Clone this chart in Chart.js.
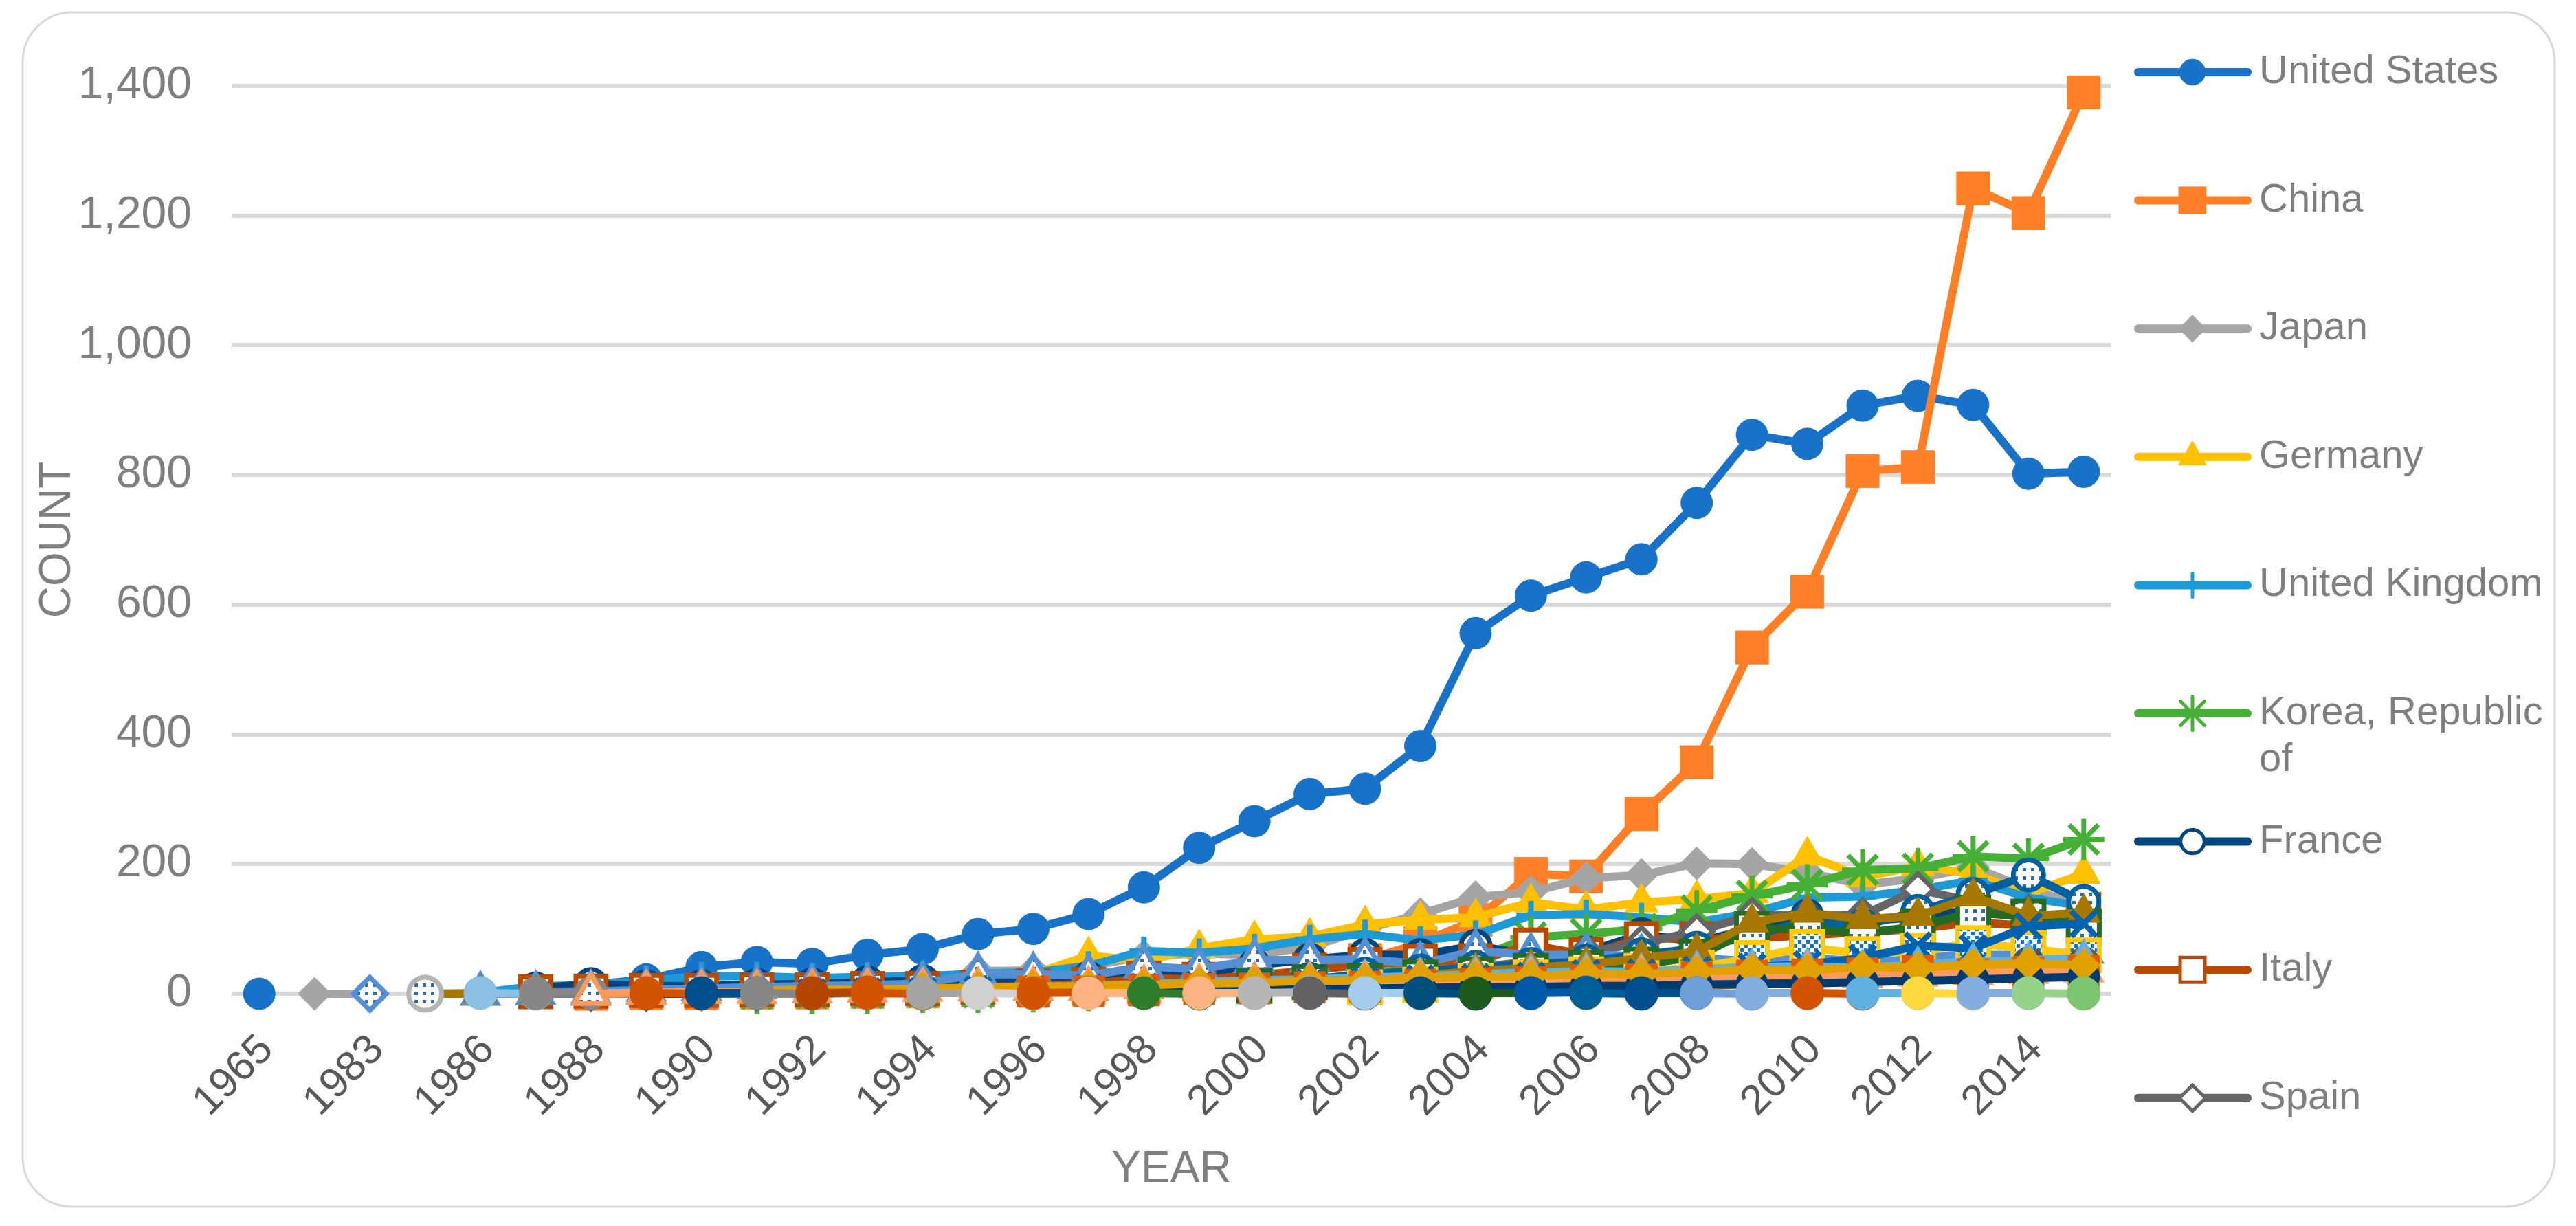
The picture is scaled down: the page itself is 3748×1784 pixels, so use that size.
<!DOCTYPE html>
<html>
<head>
<meta charset="utf-8" />
<title>Count by year</title>
<script src="https://cdn.jsdelivr.net/npm/chart.js"></script>
<style>
  html, body { margin: 0; padding: 0; background: #ffffff; }
  #myChart { display: block; background: #ffffff; }
</style>
</head>
<body>
<canvas id="myChart" width="3748" height="1784" style="width:3748px;height:1784px;"></canvas>

<script>
// categories
const years = ['1965','1980','1983','1985','1986','1987','1988','1989','1990','1991','1992','1993','1994','1995','1996','1997','1998','1999','2000','2001','2002','2003','2004','2005','2006','2007','2008','2009','2010','2011','2012','2013','2014','2015'];
const yTickValues = [0, 200, 400, 600, 800, 1000, 1200, 1400];

const N = null;

// series shown in the legend
const majorCountries = ['United States', 'China', 'Japan', 'Germany', 'United Kingdom', 'Korea, Republic of', 'France', 'Italy', 'Spain'];
const usCounts      = [0,N,N,N,2,9,14,22,41,49,46,60,69,92,100,123,164,225,266,308,316,382,556,614,642,670,757,862,848,907,922,908,802,805];
const chinaCounts   = [N,N,N,N,N,N,0,1,1,2,2,3,4,5,6,8,10,14,18,35,52,78,114,185,181,277,357,534,620,806,812,1242,1204,1390];
const japanCounts   = [N,0,0,N,1,3,5,6,10,14,15,18,20,35,36,42,58,62,60,72,99,123,149,157,178,183,201,200,187,168,178,195,162,135];
const germanyCounts = [N,N,N,N,N,2,4,6,8,12,14,16,22,30,30,59,50,70,84,88,107,114,118,141,130,141,146,155,213,180,197,185,155,185];
const ukCounts      = [N,N,N,0,1,12,13,20,27,27,24,26,27,31,33,43,66,63,70,84,92,82,91,121,123,118,110,125,148,150,160,175,148,135];
const koreaCounts   = [N,N,N,N,N,N,N,N,N,0,1,1,2,2,3,5,8,10,15,22,30,40,55,87,92,100,128,151,168,191,193,212,208,238];
const franceCounts  = [N,N,N,N,N,8,15,12,12,14,15,18,20,18,20,25,28,30,44,53,60,60,74,60,64,92,80,100,121,112,118,130,118,125];
const italyCounts   = [N,N,N,N,N,3,4,5,5,6,6,8,8,10,12,15,24,22,28,36,45,50,51,75,60,85,85,85,90,95,100,110,105,130];
const spainCounts   = [N,N,N,N,N,N,1,1,2,2,3,3,4,5,6,8,10,12,16,20,30,35,40,50,64,78,96,121,121,121,161,142,125,110];

// further countries (not listed in the legend)
const otherCountries = ['Canada', 'Taiwan', 'Netherlands', 'Switzerland', 'Sweden', 'Australia', 'India', 'Israel', 'Belgium', 'Russia', 'Finland', 'Denmark', 'Austria', 'Singapore'];
const canadaCounts      = [N,N,N,N,0,1,3,6,8,10,12,13,16,30,30,28,42,38,52,52,53,46,66,60,60,58,55,50,55,50,55,60,60,65];
const taiwanCounts      = [N,N,N,N,N,N,N,N,N,N,N,N,N,N,N,N,N,N,N,22,30,35,40,45,50,60,70,90,112,105,127,153,183,142];
const netherlandsCounts = [N,N,N,N,N,N,N,N,N,N,N,N,N,N,N,N,N,N,12,18,20,25,30,35,40,45,57,100,100,93,104,125,119,104];
const switzCounts       = [N,N,N,N,N,N,N,N,N,N,N,N,N,N,N,N,N,N,N,N,10,14,20,25,30,35,40,55,72,61,66,78,70,59];
const swedenCounts      = [N,N,N,0,0,0,0,0,1,2,2,3,4,5,6,8,10,12,15,18,22,28,35,40,45,55,65,110,125,115,120,150,120,125];
const australiaCounts   = [N,N,N,N,N,N,N,N,N,N,2,3,3,5,6,9,10,13,15,17,20,23,25,27,31,32,36,41,45,55,74,70,104,108];
const indiaCounts       = [N,N,N,N,N,N,N,N,N,N,N,N,N,N,N,N,N,N,N,N,N,N,5,6,9,10,12,15,17,21,20,25,48,48];
const israelCounts      = [N,N,N,N,N,N,N,N,N,N,N,N,N,N,N,N,N,N,N,N,3,4,5,7,8,10,13,15,18,21,22,28,35,45];
const belgiumCounts     = [N,N,N,N,N,N,N,N,N,N,N,N,5,8,9,12,15,18,21,22,25,27,30,33,35,34,38,41,42,40,45,50,52,55];
const russiaCounts      = [N,N,N,N,N,N,N,N,N,N,N,N,N,N,3,4,5,7,8,10,11,14,16,18,21,22,25,28,30,32,35,30,33,35];
const finlandCounts     = [N,N,N,N,N,N,N,N,0,0,0,1,1,2,3,4,5,6,8,10,12,14,15,18,20,22,25,28,30,32,30,28,32,30];
const denmarkCounts     = [N,N,N,N,N,N,0,2,3,3,4,5,6,7,8,8,10,12,14,15,16,18,20,22,24,25,26,28,30,28,30,32,34,36];
const austriaCounts     = [N,N,N,N,N,N,N,0,0,1,1,2,2,3,3,4,5,6,6,7,8,9,10,10,12,12,14,15,16,18,20,22,24,26];
const singaporeCounts   = [N,N,N,N,N,N,N,N,N,5,6,6,8,9,11,12,13,16,17,20,21,25,26,27,31,30,34,37,36,41,40,45,47,44];

// countries with only a record or two each
const minorCountries = ['Mexico','Norway','Argentina','Poland','Ireland','Hungary','New Zealand','Czech Republic','Portugal','Greece','Turkey','South Africa','Iran','Malaysia','Thailand','Chile','Egypt','Saudi Arabia','Ukraine','Romania','Colombia','Indonesia','Philippines','Pakistan','Vietnam','Luxembourg','Slovenia','Croatia','Estonia','Lithuania','Latvia','Bulgaria'];
const minorYears = [['1983'],['1985'],['1986','1987'],['1987','1988'],['1988','1989'],['1989','1990'],['1990','1991'],['1991','1992'],['1992','1993'],['1993','1994'],['1994','1995'],['1995','1996'],['1996','1997'],['1997','1998'],['1998','1999'],['1999','2000'],['2000','2001'],['2001','2002'],['2002','2003'],['2003','2004'],['2004','2005'],['2005','2006'],['2006','2007'],['2007','2008'],['2008','2009'],['2009','2010'],['2010','2011'],['2011','2012'],['2012','2013'],['2013','2014'],['2014','2015'],['2015']];
const minorCounts = [[0],[0],[1,0],[1,1],[0,1],[1,0],[1,1],[1,0],[1,2],[1,0],[1,1],[1,0],[1,2],[1,1],[1,0],[1,1],[1,2],[1,0],[1,1],[1,0],[1,1],[1,2],[1,0],[1,1],[1,0],[1,1],[1,0],[1,1],[1,0],[1,1],[1,0],[1]];

// ---- styles (kept apart from the data) ----
const FONT = "'Liberation Sans', Arial, sans-serif";
const majorStyles = [
  { color: '#1873C8', shape: 'circle',  r: 23, fill: 'solid', bw: 1 },
  { color: '#FF7F27', shape: 'rect',    r: 34, fill: 'solid', bw: 1 },
  { color: '#A5A5A5', shape: 'rectRot', r: 24, fill: 'solid', bw: 1 },
  { color: '#FFC000', shape: 'triangle',r: 28, fill: 'solid', bw: 1 },
  { color: '#1E9BD7', shape: 'cross',   r: 21, fill: 'solid', bw: 8 },
  { color: '#45B035', shape: 'star',    r: 30, fill: 'solid', bw: 7 },
  { color: '#00457E', shape: 'circle',  r: 21, fill: 'white', bw: 7 },
  { color: '#B84A00', shape: 'rect',    r: 31, fill: 'white', bw: 7 },
  { color: '#666666', shape: 'rectRot', r: 23, fill: 'white', bw: 7 }
];
const otherStyles = [
  { color: '#5590D5', shape: 'triangle', r: 28, fill: 'grid',  bw: 7 },
  { color: '#0060A0', shape: 'circle',   r: 22, fill: 'grid',  bw: 7 },
  { color: '#266B22', shape: 'rect',     r: 32, fill: 'grid',  bw: 7 },
  { color: '#FFCA0F', shape: 'rect',     r: 32, fill: 'diag',  bw: 7 },
  { color: '#A67800', shape: 'triangle', r: 28, fill: 'solid', bw: 1 },
  { color: '#0063B1', shape: 'crossRot', r: 26, fill: 'solid', bw: 8 },
  { color: '#555555', shape: 'circle',   r: 23, fill: 'solid', bw: 1 },
  { color: '#8B5E00', shape: 'circle',   r: 23, fill: 'solid', bw: 1 },
  { color: '#5DB2E3', shape: 'triangle', r: 28, fill: 'solid', bw: 1 },
  { color: '#E35A00', shape: 'rect',     r: 32, fill: 'solid', bw: 1 },
  { color: '#70C05E', shape: 'triangle', r: 28, fill: 'solid', bw: 1 },
  { color: '#FF9A5C', shape: 'triangle', r: 28, fill: 'grid',  bw: 7 },
  { color: '#003A6E', shape: 'circle',   r: 23, fill: 'solid', bw: 1 },
  { color: '#E0A000', shape: 'rectRot',  r: 24, fill: 'solid', bw: 1 }
];
const minorColors = ['#5590D5','#B5B5B5','#8CC1E6','#878787','#FF9A5C','#D35400','#004F8C','#878787','#B54600','#D35400','#A5A5A5','#D0D0D0','#D35400','#FBB382','#2E7D2E','#FBB382','#B6B6B6','#636363','#A4CDEC','#014F7C','#1E5A1B','#0059A8','#005E96','#004F91','#6D9FD9','#85AEE0','#D35400','#5EB1E0','#FFD83D','#85AEE0','#96D38A','#7DC56E'];
const minorShapes = ['rectRot','circle','circle','circle','triangle'];   // rest are circles
const minorFills  = ['grid','grid','solid','solid','grid'];              // rest are solid

const canvas = document.getElementById('myChart');
const ctx = canvas.getContext('2d');

function makePattern(diagonal) {
  const tile = document.createElement('canvas');
  tile.width = 12; tile.height = 12;
  const t = tile.getContext('2d');
  t.fillStyle = '#ffffff';
  t.fillRect(0, 0, 12, 12);
  t.fillStyle = '#1A73C8';
  if (diagonal) { t.fillRect(0, 0, 5, 5); t.fillRect(6, 6, 5, 5); }
  else { t.fillRect(3, 3, 5, 5); }
  return ctx.createPattern(tile, 'repeat');
}
const patterns = { grid: makePattern(false), diag: makePattern(true) };

function makeDataset(label, data, st, idx) {
  const fill = st.fill === 'solid' ? st.color : (st.fill === 'white' ? '#ffffff' : patterns[st.fill]);
  return {
    label: label,
    data: data,
    borderColor: st.color,
    backgroundColor: st.color,
    borderWidth: 12,
    borderJoinStyle: 'round',
    borderCapStyle: 'round',
    pointStyle: st.shape,
    pointRadius: st.r,
    pointBackgroundColor: fill,
    pointBorderColor: st.color,
    pointBorderWidth: st.bw,
    tension: 0,
    spanGaps: false,
    clip: false,
    order: -idx     // later series on top, like the original
  };
}

const majorData = [usCounts, chinaCounts, japanCounts, germanyCounts, ukCounts, koreaCounts, franceCounts, italyCounts, spainCounts];
const otherData = [canadaCounts, taiwanCounts, netherlandsCounts, switzCounts, swedenCounts, australiaCounts, indiaCounts, israelCounts, belgiumCounts, russiaCounts, finlandCounts, denmarkCounts, austriaCounts, singaporeCounts];

const datasets = [];
majorCountries.forEach((c, i) => datasets.push(makeDataset(c, majorData[i], majorStyles[i], datasets.length)));
otherCountries.forEach((c, i) => datasets.push(makeDataset(c, otherData[i], otherStyles[i], datasets.length)));
minorCountries.forEach((c, i) => {
  const st = {
    color: minorColors[i],
    shape: minorShapes[i] || 'circle',
    r: (minorShapes[i] === 'triangle') ? 28 : 24,
    fill: minorFills[i] || 'solid',
    bw: (minorFills[i] && minorFills[i] !== 'solid') ? 7 : 1
  };
  const pts = minorYears[i].map((yr, j) => ({ x: yr, y: minorCounts[i][j] }));
  datasets.push(makeDataset(c, pts, st, datasets.length));
});

// frame + legend (Excel-style, only the first nine series)
const frameAndLegend = {
  id: 'frameAndLegend',
  beforeDraw(chart) {
    const c = chart.ctx;
    c.save();
    c.fillStyle = '#ffffff';
    c.fillRect(0, 0, chart.width, chart.height);
    c.strokeStyle = '#D9D9D9';
    c.lineWidth = 3;
    c.beginPath();
    c.roundRect(33, 18, 3684, 1738, 72);
    c.stroke();
    c.restore();
  },
  afterDraw(chart) {
    const c = chart.ctx;
    const top = 105, step = 186.6, x0 = 3111, x1 = 3270, xm = 3190, tx = 3287;
    c.save();
    c.font = '58px ' + FONT;
    c.textBaseline = 'middle';
    c.textAlign = 'left';
    for (let k = 0; k < majorCountries.length; k++) {
      const ds = chart.data.datasets[k];
      const st = majorStyles[k];
      const y = top + k * step;
      c.strokeStyle = st.color;
      c.lineWidth = 12;
      c.lineCap = 'round';
      c.beginPath(); c.moveTo(x0, y); c.lineTo(x1, y); c.stroke();
      c.fillStyle = ds.pointBackgroundColor;
      c.strokeStyle = st.color;
      c.lineWidth = st.bw > 1 ? 5 : 1;
      if (Chart.helpers && Chart.helpers.drawPoint) {
        Chart.helpers.drawPoint(c, { pointStyle: st.shape, radius: st.r * 0.82, rotation: 0, borderWidth: c.lineWidth }, xm, y);
      }
      c.fillStyle = '#7F7F7F';
      const words = majorCountries[k].split(' ');
      const lines = [];
      let line = '';
      words.forEach(w => {
        const t = line ? line + ' ' + w : w;
        if (line && c.measureText(t).width > 425) { lines.push(line); line = w; } else { line = t; }
      });
      lines.push(line);
      lines.forEach((l, j) => c.fillText(l, tx, y + j * 68));
    }
    c.restore();
  }
};

Chart.defaults.font.family = FONT;

new Chart(ctx, {
  type: 'line',
  data: { labels: years, datasets: datasets },
  plugins: [frameAndLegend],
  options: {
    responsive: false,
    devicePixelRatio: 1,
    animation: false,
    events: [],
    layout: { padding: { top: 125, right: 676, bottom: 0, left: 0 } },
    plugins: { legend: { display: false }, tooltip: { enabled: false } },
    scales: {
      x: {
        offset: true,
        grid: { display: false, drawTicks: false },
        border: { display: false },
        ticks: {
          autoSkip: false,
          minRotation: 45,
          maxRotation: 45,
          padding: 46,
          labelOffset: 11,
          color: '#595959',
          font: { size: 61 },
          callback: (v, i) => (i % 2 === 0 ? years[i] : '')
        },
        title: { display: true, text: 'YEAR', color: '#7F7F7F', font: { size: 64 }, padding: { top: 0, bottom: 43 } },
        afterFit: s => { s.height = 338; }
      },
      y: {
        min: 0,
        max: 1400,
        afterBuildTicks: s => { s.ticks = yTickValues.map(v => ({ value: v })); },
        ticks: {
          padding: 58,
          color: '#7F7F7F',
          font: { size: 66 },
          callback: v => Number(v).toLocaleString('en-US')
        },
        grid: { color: '#D9D9D9', lineWidth: 6, drawTicks: false },
        border: { display: false },
        title: { display: true, text: 'COUNT', color: '#7F7F7F', font: { size: 64 }, padding: { top: 46, bottom: 0 } },
        afterFit: s => { s.width = 337; }
      }
    }
  }
});
</script>
</body>
</html>
